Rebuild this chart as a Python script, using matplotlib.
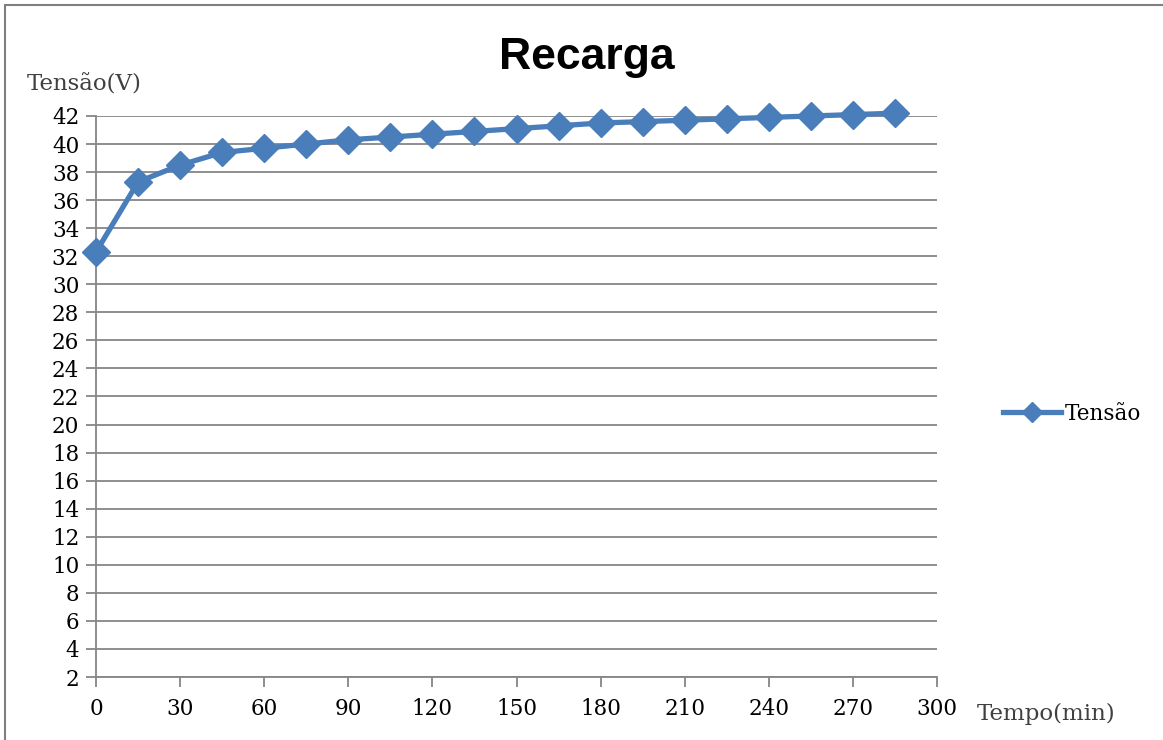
import matplotlib.pyplot as plt
from matplotlib.patches import Rectangle

# Recharge curve: voltage vs time
tempo = [0, 15, 30, 45, 60, 75, 90, 105, 120, 135, 150, 165, 180, 195,
         210, 225, 240, 255, 270, 285]
tensao = [32.3, 37.3, 38.5, 39.4, 39.7, 40.0, 40.3, 40.5, 40.7, 40.9,
          41.1, 41.3, 41.5, 41.6, 41.7, 41.8, 41.9, 42.0, 42.1, 42.2]
x_ticks = list(range(0, 301, 30))
y_ticks = list(range(2, 43, 2))

serif = ['DejaVu Serif']
blue = '#4a7ebb'
grey = '#868686'

fig = plt.figure(figsize=(11.63, 7.40), dpi=100)
ax = fig.add_axes([96 / 1163, 1 - 677 / 740, (937 - 96) / 1163, (677 - 116) / 740])

ax.plot(tempo, tensao, color=blue, linewidth=3.8, marker='D', markersize=14,
        label='Tensão', clip_on=False, zorder=5)

ax.set_xlim(0, 300)
ax.set_ylim(2, 42)
ax.set_xticks(x_ticks)
ax.set_yticks(y_ticks)
ax.yaxis.grid(True, color=grey, linewidth=1.3)
ax.set_axisbelow(True)

for side in ['top', 'right']:
    ax.spines[side].set_visible(False)
for side in ['left', 'bottom']:
    ax.spines[side].set_color(grey)
    ax.spines[side].set_linewidth(1.3)
ax.tick_params(axis='both', colors=grey, length=7, width=1.3, labelcolor='black',
               labelsize=15.5)
ax.tick_params(axis='x', pad=8)
ax.tick_params(axis='y', pad=5)
for lbl in ax.get_xticklabels() + ax.get_yticklabels():
    lbl.set_family(serif)

fig.text(587 / 1163, 1 - 57 / 740, 'Recarga', ha='center', va='center',
         fontsize=32, fontweight='bold', family=['Liberation Sans', 'DejaVu Sans'])
fig.text(27 / 1163, 1 - 85 / 740, 'Tensão(V)', ha='left', va='center',
         fontsize=16.5, color='#404040', family=serif)
fig.text(977 / 1163, 1 - 714 / 740, 'Tempo(min)', ha='left', va='center',
         fontsize=16.5, color='#404040', family=serif)

leg = ax.legend(loc='center left', bbox_to_anchor=((1000 - 96) / 841 - 0.02, (677 - 414) / 561),
                frameon=False, handlelength=2.7, handletextpad=0.2, markerscale=0.7,
                prop={'family': serif, 'size': 15.5})

# chart frame
fig.patches.append(Rectangle((5 / 1163, -0.1), 1.2, 1 - 5 / 740 + 0.1,
                             transform=fig.transFigure, fill=False,
                             edgecolor='#7f7f7f', linewidth=1.5))

fig.savefig('out.png', dpi=100)
